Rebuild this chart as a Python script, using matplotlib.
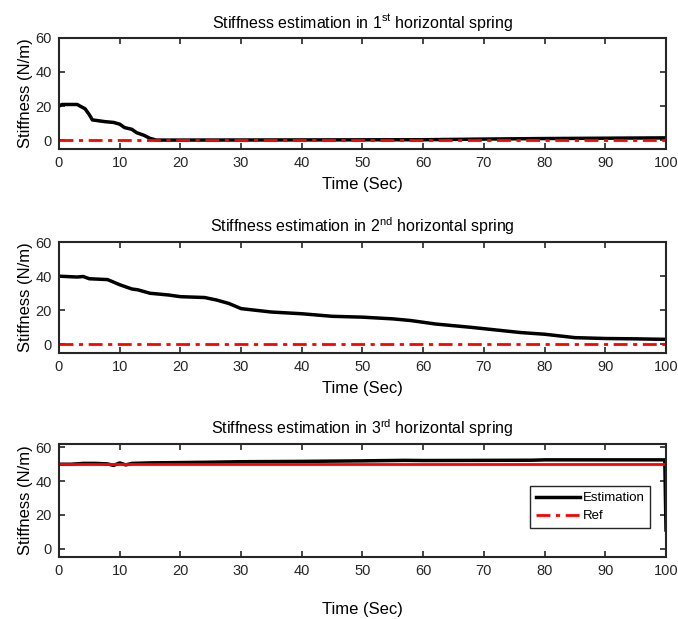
import matplotlib
matplotlib.use("Agg")
import matplotlib.pyplot as plt
from matplotlib.lines import Line2D

plt.rcParams['font.family'] = ['Liberation Sans', 'DejaVu Sans']
plt.rcParams['mathtext.fontset'] = 'custom'
plt.rcParams['mathtext.rm'] = 'Liberation Sans'
plt.rcParams['mathtext.it'] = 'Liberation Sans'

# spring 1 estimate
t1 = [0, 0.5, 3, 3.5, 4.3, 5, 5.5, 6.5, 7.5, 9, 10, 10.8, 12, 12.8, 14, 15, 16,
      20, 40, 60, 70, 80, 90, 100]
k1 = [20, 21, 21, 20, 18.5, 15, 12, 11.5, 11, 10.5, 9.5, 7.5, 6.5, 4.5, 3, 1.2, 0.2,
      0.2, 0.3, 0.4, 0.8, 1.1, 1.3, 1.5]

# spring 2 estimate
t2 = [0, 3, 4, 5, 8, 10, 12, 13, 15, 18, 20, 24, 26, 28, 30, 35, 40, 45, 50, 55,
      58, 62, 65, 68, 72, 76, 80, 85, 90, 95, 100]
k2 = [40, 39.5, 39.8, 38.5, 38, 35, 32.5, 32, 30, 29, 28, 27.5, 26, 24, 21, 19, 18,
      16.5, 16, 15, 14, 12, 11, 10, 8.5, 7, 6, 4, 3.5, 3.3, 3]

# spring 3 estimate
t3 = [0, 2, 4, 6, 8, 9, 10, 11, 12, 15, 20, 25, 30, 40, 50, 57, 60, 70, 78, 80,
      90, 99.8, 100]
k3 = [50, 50, 50.5, 50.5, 50.2, 49.3, 50.8, 49.6, 50.5, 50.8, 51, 51.2, 51.5, 51.7,
      52, 52.3, 52.2, 52.3, 52.4, 52.6, 52.6, 52.6, 11]

ref_vals = [0, 0, 50]
titles = ['Stiffness estimation in 1$^{\\mathrm{st}}$ horizontal spring',
          'Stiffness estimation in 2$^{\\mathrm{nd}}$ horizontal spring',
          'Stiffness estimation in 3$^{\\mathrm{rd}}$ horizontal spring']
xticks = list(range(0, 101, 10))
yticks = [0, 20, 40, 60]

fig = plt.figure(figsize=(6.78, 6.19), dpi=100)
boxes = [[0.087, 0.7593, 0.8953, 0.1798],
         [0.087, 0.4297, 0.8953, 0.1793],
         [0.087, 0.1002, 0.8953, 0.1825]]
ylims = [(-5, 60), (-5, 60), (-5, 62)]
series = [(t1, k1), (t2, k2), (t3, k3)]
dashdot = (0, (5, 2, 1.5, 2))

for i in range(3):
    ax = fig.add_axes(boxes[i])
    t, k = series[i]
    est, = ax.plot(t, k, color='black', lw=2.5)
    # in the 3rd panel the ref line is drawn densely and looks solid
    ax.plot([0, 100], [ref_vals[i], ref_vals[i]], color='red', lw=2,
            linestyle='-' if i == 2 else dashdot)
    ax.set_xlim(0, 100)
    ax.set_ylim(*ylims[i])
    ax.set_xticks(xticks)
    ax.set_yticks(yticks)
    ax.tick_params(direction='in', top=True, right=True, labelsize=10.5,
                   length=4, width=1.2, colors='#262626', pad=5)
    for s in ax.spines.values():
        s.set_linewidth(1.5)
        s.set_color('#262626')
    ax.set_title(titles[i], fontsize=11.5, pad=7)
    ax.set_ylabel('Stiffness (N/m)', fontsize=12, labelpad=2)
    ax.set_xlabel('Time (Sec)', fontsize=12, labelpad=17 if i == 2 else 5)
    if i == 2:
        ref_handle = Line2D([], [], color='red', lw=2, linestyle=dashdot)
        ax.legend([est, ref_handle], ['Estimation', 'Ref'],
                  loc='center right', bbox_to_anchor=(0.985, 0.44), fontsize=9.5,
                  fancybox=False, edgecolor='#262626', framealpha=1,
                  handlelength=3.3, handletextpad=0.2, borderpad=0.45,
                  labelspacing=0.45)

fig.savefig('out.png', dpi=100)
